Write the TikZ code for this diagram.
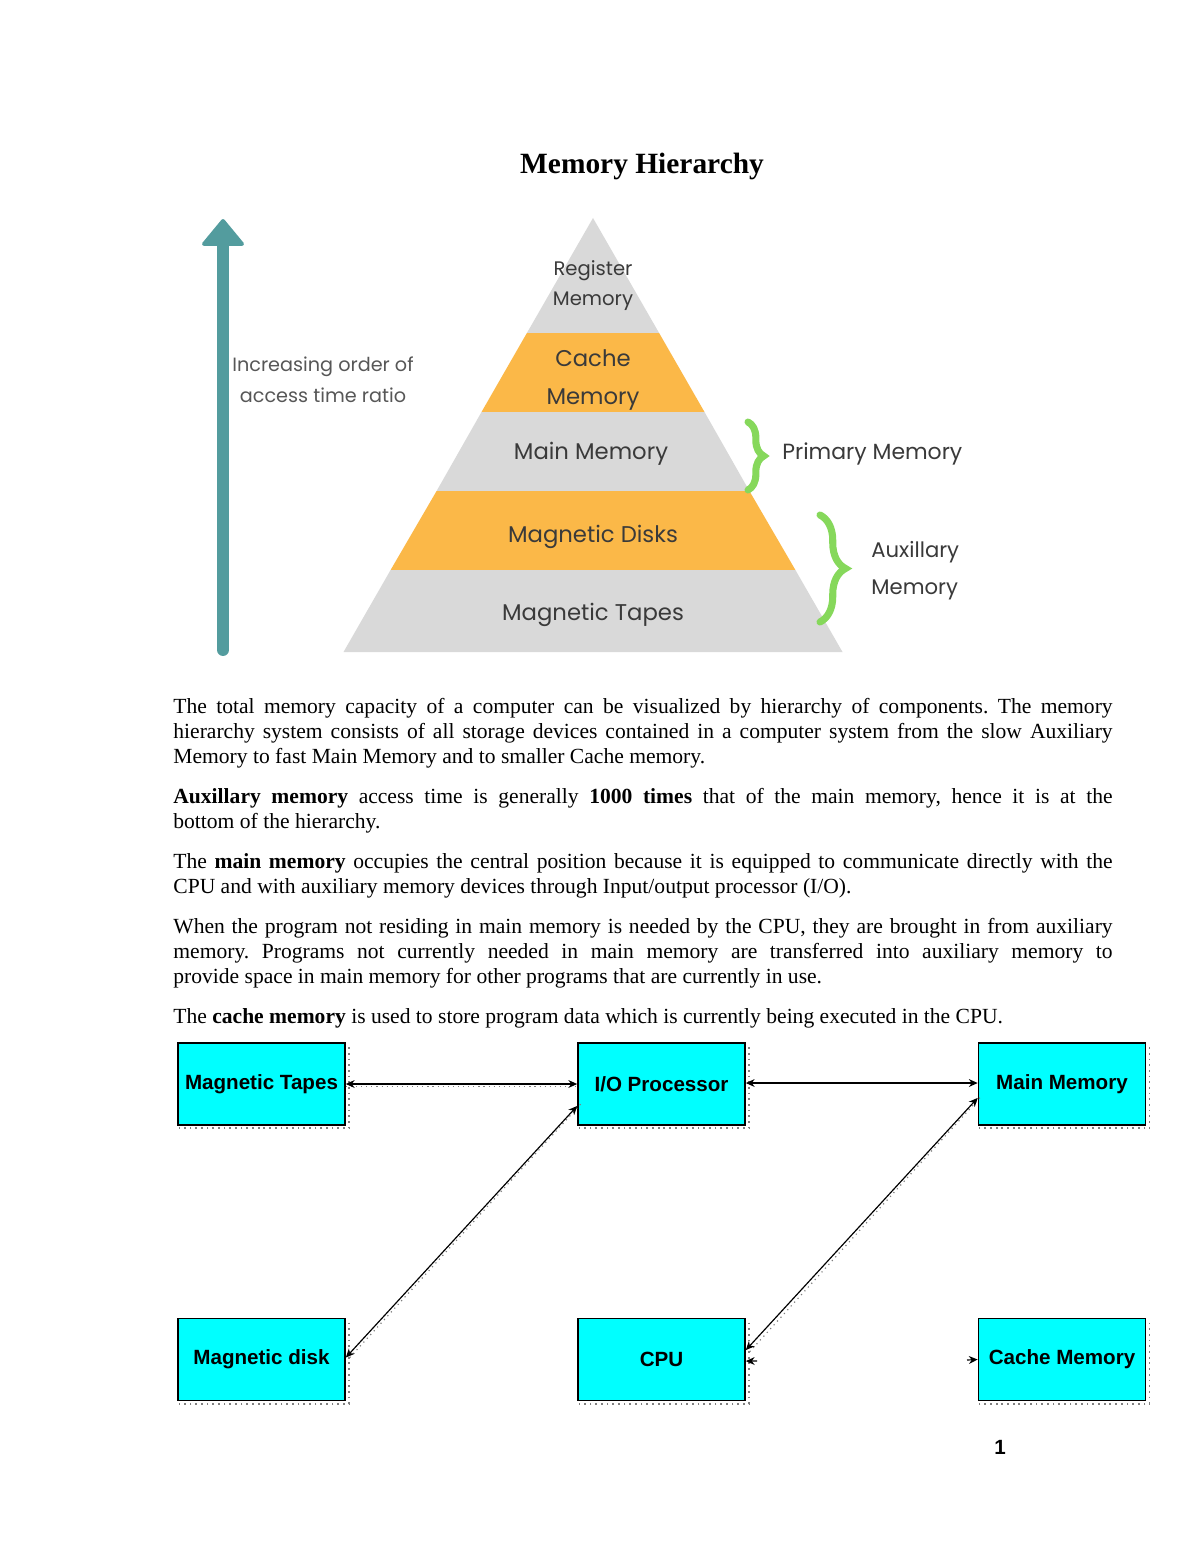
\documentclass[tikz,border=0pt]{standalone}
\usepackage{fontspec}
\setmainfont{Liberation Serif}
\newfontfamily\pyr{Poppins}
\newfontfamily\arialf{Liberation Sans}
\usetikzlibrary{arrows.meta,decorations.pathreplacing,calc}
\definecolor{pgrey}{HTML}{D9D9D9}
\definecolor{porange}{HTML}{FBB848}
\definecolor{tealarrow}{HTML}{539C9E}
\definecolor{bgreen}{HTML}{86D85B}
\definecolor{ptext}{HTML}{3A3A3A}
\definecolor{boxcyan}{HTML}{00FFFF}
\frenchspacing
\begin{document}
\begin{tikzpicture}[x=0.51pt,y=-0.51pt,
  pyrtxt/.style={text=ptext, inner sep=0, align=center},
  sidetxt/.style={text=ptext, inner sep=0, align=left},
  brc/.style={draw=bgreen, line width=3.6pt, line cap=round, decorate},
  blockbox/.style={draw=black, fill=boxcyan, line width=0.8pt, minimum width=85.2pt, minimum height=41.8pt, inner sep=0, font=\arialf\bfseries\fontsize{10.5}{12}\selectfont},
  shadowline/.style={draw=gray, dotted, line width=0.9pt},
  conn/.style={{Stealth[length=4.5pt,width=4pt]}-{Stealth[length=4.5pt,width=4pt]}, line width=0.6pt},
  oneway/.style={-{Stealth[length=4.5pt,width=4pt]}, line width=0.6pt},
  connshadow/.style={draw=gray, dotted, line width=0.6pt}]
\useasboundingbox (0,0) rectangle (1200,1553);
\fill[white] (0,0) rectangle (1200,1553);

% title
\node[font=\bfseries\fontsize{15}{18}\selectfont, inner sep=0] (title) at (642,166) {Memory Hierarchy};

% pyramid bands
\fill[pgrey] (593,218) -- (659.1,333) -- (526.9,333) -- cycle;
\fill[porange] (526.9,333) -- (659.1,333) -- (704.5,412) -- (481.5,412) -- cycle;
\fill[pgrey] (481.5,412) -- (704.5,412) -- (749.4,491) -- (436.6,491) -- cycle;
\fill[porange] (436.6,491) -- (749.4,491) -- (795.4,570) -- (390.6,570) -- cycle;
\fill[pgrey] (390.6,570) -- (795.4,570) -- (842.5,652) -- (343.5,652) -- cycle;

\node[pyrtxt, font=\pyr\fontsize{10}{15.3}\selectfont] (reg) at (593,286) {Register\\Memory};
\node[pyrtxt, font=\pyr\fontsize{11.6}{18.9}\selectfont] (cache) at (593,380) {Cache\\Memory};
\node[pyrtxt, font=\pyr\fontsize{11.6}{14}\selectfont] (mainm) at (591,454) {Main Memory};
\node[pyrtxt, font=\pyr\fontsize{11.6}{14}\selectfont] (disks) at (593,537) {Magnetic Disks};
\node[pyrtxt, font=\pyr\fontsize{11.6}{14}\selectfont] (tapes) at (593,615) {Magnetic Tapes};

% teal arrow
\draw[tealarrow, line width=6.1pt, line cap=round] (223,650) -- (223,238);
\filldraw[tealarrow, line width=2pt, line join=round] (204,244) -- (223,221) -- (242,244) -- cycle;
\node[sidetxt, align=center, text=ptext!85, font=\pyr\fontsize{9.8}{15.8}\selectfont] (incr) at (323,380) {Increasing order of\\access time ratio};

% braces
\draw[brc, decoration={brace, amplitude=8pt}] (748,422) -- (748,490);
\draw[brc, decoration={brace, amplitude=13pt}] (820,515) -- (820,622);
\node[sidetxt, anchor=west, font=\pyr\fontsize{11.2}{14}\selectfont] (prim) at (782,454) {Primary Memory};
\node[sidetxt, anchor=west, font=\pyr\fontsize{10.8}{18.9}\selectfont] (aux) at (871,571) {Auxillary\\Memory};

% body text
\node[anchor=north west, text width=479pt, inner sep=0, align=justify, font=\fontsize{11}{12.75}\selectfont] (body) at (173,698) {%
\setlength\parskip{7.6pt}\setlength\parindent{0pt}%
The total memory capacity of a computer can be visualized by hierarchy of components. The memory\linebreak
hierarchy system consists of all storage devices contained in a computer system from the slow Auxiliary\linebreak
Memory to fast Main Memory and to smaller Cache memory.\par
\textbf{Auxillary memory} access time is generally \textbf{1000 times} that of the main memory, hence it is at the\linebreak
bottom of the hierarchy.\par
The \textbf{main memory} occupies the central position because it is equipped to communicate directly with the\linebreak
CPU and with auxiliary memory devices through Input/output processor (I/O).\par
When the program not residing in main memory is needed by the CPU, they are brought in from auxiliary\linebreak
memory. Programs not currently needed in main memory are transferred into auxiliary memory to\linebreak
provide space in main memory for other programs that are currently in use.\par
The \textbf{cache memory} is used to store program data which is currently being executed in the CPU.};

% bottom block diagram
\node[blockbox] (mt) at (261.5,1084) {Magnetic Tapes};
\node[blockbox] (iop) at (661.5,1084) {I/O Processor};
\node[blockbox] (mm) at (1062,1084) {Main Memory};
\node[blockbox] (md) at (261.5,1359.5) {Magnetic disk};
\node[blockbox] (cpu) at (661.5,1359.5) {CPU};
\node[blockbox] (cm) at (1062,1359.5) {Cache Memory};

\foreach \b in {mt,iop,mm,md,cpu,cm}{
  \draw[shadowline] ([xshift=1.6pt,yshift=-2.5pt]\b.north east) -- ([xshift=1.6pt,yshift=-1.3pt]\b.south east) -- ([xshift=0.8pt,yshift=-1.3pt]\b.south west);
}

\draw[connshadow] ([yshift=-1.2pt]mt.east) -- ([yshift=-1.2pt]iop.west);
\draw[conn] (mt.east) -- (iop.west);
\draw[conn] ([yshift=0.5pt]iop.east) -- ([yshift=0.5pt]mm.west);
\draw[connshadow] ([xshift=2pt,yshift=1pt]md.east) -- ([xshift=2pt,yshift=-10pt]iop.west);
\draw[conn] ([yshift=1pt]md.east) -- ([yshift=-11.2pt]iop.west);
\draw[connshadow] ([xshift=2pt,yshift=4pt]cpu.east) -- ([xshift=2pt,yshift=-6pt]mm.west);
\draw[conn] ([yshift=4.8pt]cpu.east) -- ([yshift=-7.1pt]mm.west);
\coordinate (cpustub) at (757,1361);
\coordinate (cmstub) at (967,1360);
\draw[oneway] (cpustub) -- ([yshift=-0.8pt]cpu.east);
\draw[oneway] (cmstub) -- (cm.west);

% page number
\node[font=\arialf\bfseries\fontsize{10.5}{12}\selectfont, inner sep=0] (pnum) at (1000,1447) {1};
\end{tikzpicture}
\end{document}
